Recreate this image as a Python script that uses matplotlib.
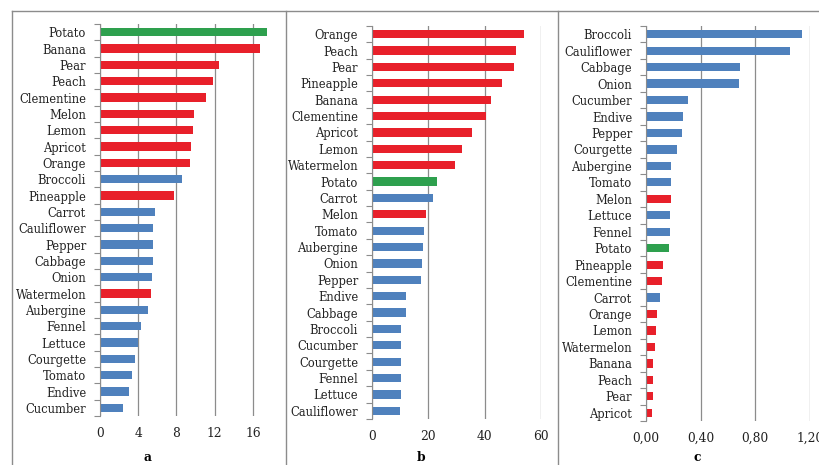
import matplotlib.pyplot as plt
from matplotlib.lines import Line2D
from matplotlib.ticker import FixedLocator, FuncFormatter

# --------- datos (de arriba hacia abajo) ---------
cats_a = ["Potato", "Banana", "Pear", "Peach", "Clementine", "Melon", "Lemon",
          "Apricot", "Orange", "Broccoli", "Pineapple", "Carrot", "Cauliflower",
          "Pepper", "Cabbage", "Onion", "Watermelon", "Aubergine", "Fennel",
          "Lettuce", "Courgette", "Tomato", "Endive", "Cucumber"]
vals_a = [17.5, 16.7, 12.5, 11.8, 11.1, 9.8, 9.7, 9.5, 9.4, 8.6, 7.75, 5.8, 5.5,
          5.5, 5.5, 5.4, 5.3, 5.05, 4.3, 4.0, 3.7, 3.3, 3.05, 2.4]

cats_b = ["Orange", "Peach", "Pear", "Pineapple", "Banana", "Clementine",
          "Apricot", "Lemon", "Watermelon", "Potato", "Carrot", "Melon", "Tomato",
          "Aubergine", "Onion", "Pepper", "Endive", "Cabbage", "Broccoli",
          "Cucumber", "Courgette", "Fennel", "Lettuce", "Cauliflower"]
vals_b = [53.8, 51.2, 50.5, 46.2, 42.2, 40.3, 35.5, 32.0, 29.4, 23.0, 21.5, 19.3,
          18.6, 18.2, 17.7, 17.4, 12.2, 12.2, 10.3, 10.3, 10.3, 10.3, 10.3, 9.8]

cats_c = ["Broccoli", "Cauliflower", "Cabbage", "Onion", "Cucumber", "Endive",
          "Pepper", "Courgette", "Aubergine", "Tomato", "Melon", "Lettuce",
          "Fennel", "Potato", "Pineapple", "Clementine", "Carrot", "Orange",
          "Lemon", "Watermelon", "Banana", "Peach", "Pear", "Apricot"]
vals_c = [1.143, 1.051, 0.688, 0.678, 0.31, 0.268, 0.261, 0.229, 0.183, 0.183,
          0.183, 0.176, 0.176, 0.168, 0.127, 0.115, 0.105, 0.083, 0.076, 0.068,
          0.054, 0.054, 0.054, 0.046]

fruits = ["Banana", "Pear", "Peach", "Clementine", "Melon", "Lemon", "Apricot",
          "Orange", "Pineapple", "Watermelon"]
ROJO, AZUL, VERDE = "#E8202A", "#4F81BD", "#2EA04E"
GRIS = "#8C8C8C"


def color_de(nombre):
    if nombre == "Potato":
        return VERDE
    return ROJO if nombre in fruits else AZUL


W, H = 819, 465
plt.rcParams["font.family"] = "DejaVu Serif"
fig = plt.figure(figsize=(W / 100, H / 100), dpi=100)


def panel(cats, vals, box, xmax, xticks, fmt, letra, centro):
    left, right, top, bottom = box
    ax = fig.add_axes([left / W, 1 - bottom / H, (right - left) / W, (bottom - top) / H])
    n = len(cats)
    pos = list(range(n))
    ax.barh(pos, vals, height=0.5, color=[color_de(c) for c in cats], zorder=3)
    ax.set_ylim(n - 0.5, -0.5)
    ax.set_xlim(0, xmax)
    ax.set_yticks(pos)
    ax.set_yticklabels(cats, fontsize=8.3)
    ax.tick_params(axis="y", which="major", length=0, pad=10, colors="#222222")
    ax.yaxis.set_minor_locator(FixedLocator([i - 0.5 for i in range(n + 1)]))
    ax.tick_params(axis="y", which="minor", length=4, color=GRIS, width=0.8)
    ax.xaxis.set_major_locator(FixedLocator(xticks))
    ax.xaxis.set_major_formatter(FuncFormatter(fmt))
    ax.tick_params(axis="x", length=0, pad=8, labelsize=8.8, colors="#222222")
    ax.grid(axis="x", color=GRIS, linewidth=0.9, zorder=0)
    for s in ["top", "right", "bottom"]:
        ax.spines[s].set_visible(False)
    ax.spines["left"].set_color(GRIS)
    ax.spines["left"].set_zorder(4)
    fig.text(centro / W, 1 - 457 / H, letra, ha="center", va="center",
             fontsize=8.8, fontweight="bold")
    return ax


panel(cats_a, vals_a, (100, 272, 24, 416), 18, [0, 4, 8, 12, 16],
      lambda v, p: f"{v:.0f}", "a", 148)
panel(cats_b, vals_b, (372, 541, 26, 419), 60, [0, 20, 40, 60],
      lambda v, p: f"{v:.0f}", "b", 421)
panel(cats_c, vals_c, (646, 810, 26, 421), 1.2, [0, 0.4, 0.8, 1.2],
      lambda v, p: f"{v:.2f}".replace(".", ","), "c", 697)

# marcos de los paneles
fig.add_artist(Line2D([12 / W, 1], [1 - 11 / H] * 2, color=GRIS, lw=1))
for x in [12, 285.5, 558]:
    fig.add_artist(Line2D([x / W] * 2, [0, 1 - 11 / H], color=GRIS, lw=1))

fig.savefig("out.png", dpi=100)
